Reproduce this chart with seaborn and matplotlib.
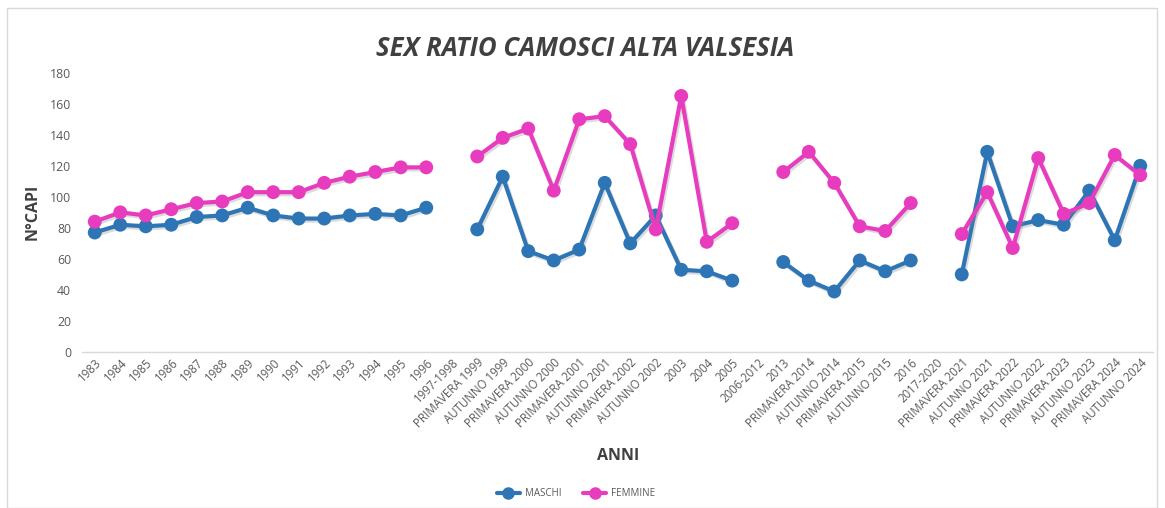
import numpy as np
import pandas as pd
import matplotlib
matplotlib.use("Agg")
import matplotlib.pyplot as plt
import matplotlib.patheffects as pe
from matplotlib.patches import Rectangle
import seaborn as sns

categories = [
    "1983", "1984", "1985", "1986", "1987", "1988", "1989", "1990", "1991", "1992",
    "1993", "1994", "1995", "1996", "1997-1998",
    "PRIMAVERA 1999", "AUTUNNO 1999", "PRIMAVERA 2000", "AUTUNNO 2000",
    "PRIMAVERA 2001", "AUTUNNO 2001", "PRIMAVERA 2002", "AUTUNNO 2002",
    "2003", "2004", "2005", "2006-2012", "2013",
    "PRIMAVERA 2014", "AUTUNNO 2014", "PRIMAVERA 2015", "AUTUNNO 2015", "2016",
    "2017-2020",
    "PRIMAVERA 2021", "AUTUNNO 2021", "PRIMAVERA 2022", "AUTUNNO 2022",
    "PRIMAVERA 2023", "AUTUNNO 2023", "PRIMAVERA 2024", "AUTUNNO 2024",
]

maschi = [77, 82, 81, 82, 87, 88, 93, 88, 86, 86, 88, 89, 88, 93, None,
          79, 113, 65, 59, 66, 109, 70, 88, 53, 52, 46, None, 58,
          46, 39, 59, 52, 59, None,
          50, 129, 81, 85, 82, 104, 72, 120]

femmine = [84, 90, 88, 92, 96, 97, 103, 103, 103, 109, 113, 116, 119, 119, None,
           126, 138, 144, 104, 150, 152, 134, 79, 165, 71, 83, None, 116,
           129, 109, 81, 78, 96, None,
           76, 103, 67, 125, 89, 96, 127, 114]

series_names = ["MASCHI", "FEMMINE"]
colors = {"MASCHI": "#2E75B6", "FEMMINE": "#E83CBF"}

# build long table, with segment ids so gaps break the lines
rows = []
for name, vals in zip(series_names, [maschi, femmine]):
    seg = 0
    for i, v in enumerate(vals):
        if v is None:
            seg += 1
            continue
        rows.append({"pos": i, "val": v, "serie": name, "seg": seg})
df = pd.DataFrame(rows)

sns.set_theme(style="white")
plt.rcParams["font.family"] = ["Open Sans", "DejaVu Sans"]

fig = plt.figure(figsize=(11.65, 5.08), dpi=100)
ax = fig.add_axes([82 / 1165, 1 - 352 / 508, (1153 - 82) / 1165, (352 - 72.7) / 508])

sns.lineplot(data=df, x="pos", y="val", hue="serie", units="seg", estimator=None,
             palette=colors, hue_order=series_names, marker="o", markersize=10,
             markeredgewidth=0, linewidth=3, ax=ax, legend=False, sort=False)
for ln in ax.get_lines():
    ln.set_path_effects([pe.SimpleLineShadow(offset=(1.2, -1.5), shadow_color="#888888", alpha=0.3),
                         pe.Normal()])

ax.set_xlim(-0.5, len(categories) - 0.5)
ax.set_ylim(0, 180)
ax.set_yticks(np.arange(0, 181, 20))
ax.set_xticks(range(len(categories)))
ax.set_xticklabels(categories, rotation=45, ha="right", rotation_mode="anchor",
                   fontsize=8.3, color="#595959")
ax.tick_params(axis="y", labelsize=8.8, labelcolor="#595959", length=0, pad=8)
ax.tick_params(axis="x", length=0, pad=3)
for s in ["top", "right", "left"]:
    ax.spines[s].set_visible(False)
ax.spines["bottom"].set_color("#D9D9D9")
ax.spines["bottom"].set_linewidth(1)
ax.grid(False)
ax.set_xlabel("")
ax.set_ylabel("")

fig.text(33 / 1165, 1 - 212 / 508, "N°CAPI", rotation=90, ha="center", va="center",
         fontsize=11.5, fontweight="bold", color="#404040")
fig.text(618 / 1165, 1 - 456 / 508, "ANNI", ha="center", va="center",
         fontsize=11.5, fontweight="bold", color="#404040")
fig.text(585 / 1165, 1 - 49 / 508, "SEX RATIO CAMOSCI ALTA VALSESIA", ha="center",
         va="center", fontsize=18.5, fontweight="bold", fontstyle="italic", color="#404040")

handles = [plt.Line2D([0], [0], color=colors[n], lw=3, marker="o", markersize=8) for n in series_names]
fig.legend(handles, series_names, loc="center", bbox_to_anchor=(576 / 1165, 1 - 494 / 508),
           ncol=2, frameon=False, fontsize=7, labelcolor="#595959", handlelength=2.4,
           columnspacing=2.2, handletextpad=0.5)

fig.patches.append(Rectangle((7 / 1165, 0.0), (1157 - 7) / 1165, 1 - 8 / 508,
                             transform=fig.transFigure, fill=False, edgecolor="#D9D9D9", lw=1))

fig.savefig("out.png", dpi=100, facecolor="white")
